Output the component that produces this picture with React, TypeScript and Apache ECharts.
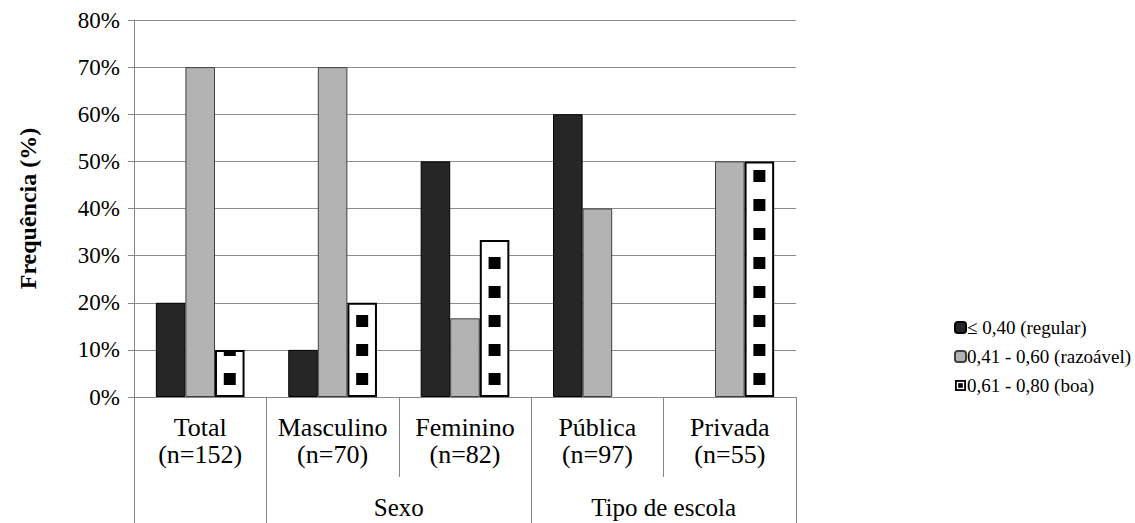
import React, { useEffect, useRef } from "react";
import * as echarts from "echarts";

const categories = [
  "Total\n(n=152)",
  "Masculino\n(n=70)",
  "Feminino\n(n=82)",
  "Pública\n(n=97)",
  "Privada\n(n=55)",
];
const seriesNames = ["≤ 0,40 (regular)", "0,41 - 0,60 (razoável)", "0,61 - 0,80 (boa)"];
const regular = [20, 10, 50, 60, 0];
const razoavel = [70, 70, 16.7, 40, 50];
const boa = [10, 20, 33.3, 0, 50];
const yTicks = { min: 0, max: 80, interval: 10 };
// boundary points between categories (6 points for 5 categories)
const groupLabels = ["", "", "Sexo", "", "Tipo de escola", ""];
const longSeparators = [0, 1, 3, 5];

const FONT = "Liberation Serif";
const GAP = 0.33;

const boaIcon =
  "image://data:image/svg+xml;charset=utf-8," +
  encodeURIComponent(
    "<svg xmlns='http://www.w3.org/2000/svg' width='12' height='12'><rect x='1' y='1' width='10' height='10' fill='white' stroke='black' stroke-width='2'/><rect x='3.5' y='3.5' width='5' height='5' fill='black'/></svg>"
  );

function barData(values: number[], style: any) {
  return values.map((v) => (v === 0 ? { value: 0, itemStyle: { ...style, borderWidth: 0 } } : v));
}

export default function App() {
  const ref = useRef<HTMLDivElement>(null);
  useEffect(() => {
    if (!ref.current) return;
    const chart = echarts.init(ref.current, null, { renderer: "svg" });
    const darkStyle = { color: "#262626", borderColor: "#000", borderWidth: 1 };
    const greyStyle = { color: "#b3b3b3", borderColor: "#404040", borderWidth: 1 };
    const boaStyle = { color: "#ffffff", borderColor: "#000", borderWidth: 2 };
    chart.setOption({
      animation: false,
      textStyle: { fontFamily: FONT, color: "#000" },
      grid: { left: 134, right: 339, top: 20, bottom: 126 },
      legend: {
        orient: "vertical",
        left: 949,
        top: 313,
        itemWidth: 11,
        itemHeight: 11,
        itemGap: 10,
        textStyle: { fontFamily: FONT, fontSize: 19, color: "#000", lineHeight: 19, padding: [0, 0, 0, -4] },
        data: [
          { name: seriesNames[0] },
          { name: seriesNames[1] },
          { name: seriesNames[2], icon: boaIcon },
        ],
      },
      xAxis: [
        {
          type: "category",
          data: categories,
          position: "bottom",
          axisLine: { lineStyle: { color: "#868686", width: 1 } },
          axisTick: { show: true, length: 80, lineStyle: { color: "#868686" } },
          axisLabel: { fontFamily: FONT, fontSize: 26, color: "#000", lineHeight: 27, margin: 17, interval: 0 },
          splitLine: { show: false },
        },
        {
          type: "category",
          data: groupLabels,
          boundaryGap: false,
          position: "bottom",
          axisLine: { show: false },
          axisTick: {
            show: true,
            length: 126,
            interval: (idx: number) => longSeparators.includes(idx),
            lineStyle: { color: "#868686" },
          },
          axisLabel: {
            fontFamily: FONT,
            fontSize: 25,
            color: "#000",
            margin: 98,
            interval: 0,
            formatter: (v: string) => v,
          },
          splitLine: { show: false },
        },
      ],
      yAxis: {
        type: "value",
        min: yTicks.min,
        max: yTicks.max,
        interval: yTicks.interval,
        name: "Frequência (%)",
        nameLocation: "middle",
        nameGap: 94,
        nameTextStyle: { fontFamily: FONT, fontSize: 24, fontWeight: "bold", color: "#000" },
        axisLine: { show: true, lineStyle: { color: "#868686" } },
        axisTick: { show: true, length: 6, lineStyle: { color: "#868686" } },
        axisLabel: { fontFamily: FONT, fontSize: 23, color: "#000", margin: 14, formatter: "{value}%" },
        splitLine: { show: true, lineStyle: { color: "#8c8c8c", width: 1 } },
      },
      series: [
        {
          name: seriesNames[0],
          type: "bar",
          data: barData(regular, darkStyle),
          itemStyle: darkStyle,
          barGap: "0%",
          barCategoryGap: GAP * 100 + "%",
        },
        {
          name: seriesNames[1],
          type: "bar",
          data: barData(razoavel, greyStyle),
          itemStyle: greyStyle,
          barGap: "0%",
          barCategoryGap: GAP * 100 + "%",
        },
        {
          name: seriesNames[2],
          type: "bar",
          data: barData(boa, boaStyle),
          itemStyle: boaStyle,
          barGap: "0%",
          barCategoryGap: GAP * 100 + "%",
        },
        {
          name: "boa-pattern",
          type: "custom",
          coordinateSystem: "cartesian2d",
          xAxisIndex: 0,
          z: 5,
          silent: true,
          data: boa.map((v, i) => [i, v]),
          encode: { x: 0, y: 1 },
          renderItem: (params: any, api: any) => {
            const i = api.value(0);
            const v = api.value(1);
            const base = api.coord([i, 0]);
            const cx = base[0];
            const y0 = base[1];
            const yTop = api.coord([i, v])[1];
            const catW = api.size([1, 0])[0];
            const barW = (catW * (1 - GAP)) / 3;
            const x = cx + barW;
            const s = 12;
            const children: any[] = [];
            for (let c = y0 - 18; c + s / 2 > yTop + 2; c -= 29) {
              const top = Math.max(c - s / 2, yTop + 2);
              const bottom = c + s / 2;
              if (bottom > top) {
                children.push({
                  type: "rect",
                  shape: { x: x - s / 2, y: top, width: s, height: bottom - top },
                  style: { fill: "#000" },
                });
              }
            }
            return { type: "group", children };
          },
        },
      ],
    });
    return () => chart.dispose();
  }, []);
  return (
    <div
      ref={ref}
      style={{ position: "fixed", left: 0, top: 0, width: 1135, height: 523, background: "#fff" }}
    />
  );
}
